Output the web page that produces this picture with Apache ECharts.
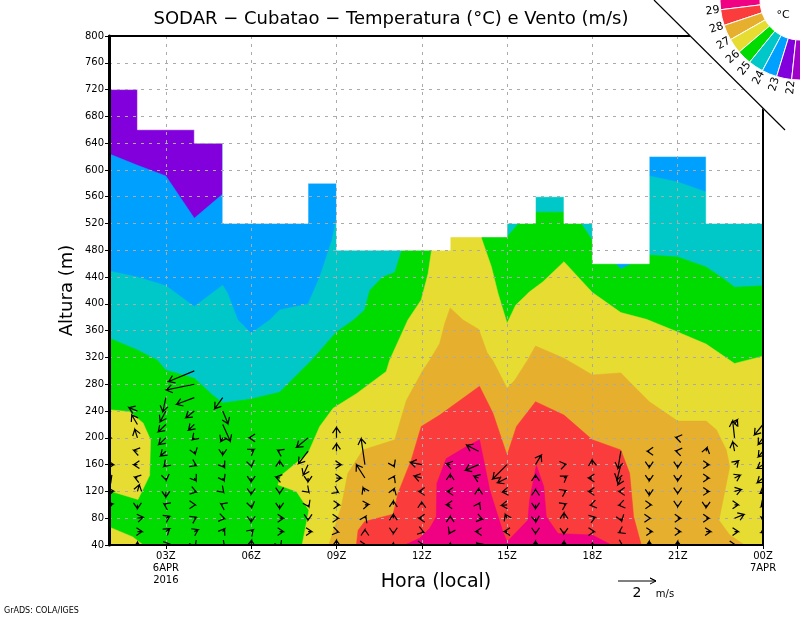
<!DOCTYPE html>
<html>
<head>
<meta charset="utf-8">
<title>SODAR Cubatao</title>
<script src="https://cdn.jsdelivr.net/npm/echarts@6/dist/echarts.min.js"></script>
<style>
    html, body { margin: 0; padding: 0; background: #fff; }
    #chart { width: 800px; height: 618px; }
</style>
</head>
<body>
<div id="chart"></div>
<script>
// axes
const xTicks = [3, 6, 9, 12, 15, 18, 21, 24];
const xTickLabels = ['03Z\n6APR\n2016', '06Z', '09Z', '12Z', '15Z', '18Z', '21Z', '00Z\n7APR'];
const windHeights = [40, 60, 80, 100, 120, 140, 160, 180, 200, 220, 240, 260, 280, 300];

// top of the valid data per hour, [hour, height]
const dataTop = [[1,720],[2,720],[2,660],[4,660],[4,640],[5,640],[5,520],[8,520],[8,580],[9,580],[9,480],[13,480],[13,500],[15,500],
    [15,520],[16,520],[16,560],[17,560],[17,520],[18,520],[18,460],[20,460],[20,620],[22,620],[22,520],[24,520]];

// temperature contours, [hour, height]
const area22 = [[1,40],[1,800],[24,800],[24,40]];
const area23 = [[1,624],[2,607],[3,591],[4,528],[5,564],[5,800],[24,800],[24,40],[1,40]];
const area24 = [[1,449],[2,440],[3,427],[4,396],[5,428],[5.17,416],[5.53,376],[6,356],[6.65,376],[7,391],[8,400],[8.41,440],[8.84,495],[9,528],
    [9,800],[18,800],[18,520],[18.7,462],[19,448],[19.5,462],[20,591],[21,582],[22,567],[22,800],[24,800],[24,40],[1,40]];
const area25 = [[1,349],[2,331],[2.7,316],[3,301],[4,289],[4.64,264],[5,252],[6,258],[7,268],[7.42,286],[8.13,316],[9,358],[9.6,376],[9.99,391],
    [10.17,420],[10.62,440],[11.05,447],[11.22,470],[11.29,479],[11.3,800],[15,800],[15,500],[15.4,520],[16,537],[17,537],[17.6,520],[18,495],
    [19,452],[20,473],[21,470],[22,455],[22.6,438],[23,425],[24,427],[24,40],[1,40]];
const area26a = [[1,242],[1.72,239],[2.2,222],[2.46,197],[2.43,144],[2.02,108],[1,121]];
const area26b = [[1,67],[1.84,52],[2.2,40],[1,40]];
const area26c = [[7.79,40],[8.03,92],[7.59,120],[6.94,130],[7.06,144],[8,177],[8.41,217],[8.88,244],[9.7,266],[10.75,299],[10.87,316],[11.51,376],
    [11.98,406],[12.22,445],[12.34,479],[12.4,800],[14.1,800],[14.1,498],[14.45,455],[14.68,416],[15,371],[15.3,398],[15.79,418],[16.26,433],[17,463],
    [18,417],[19,387],[19.9,377],[21,358],[22,340],[23,311],[24,322],[24,40]];
const area27 = [[8.73,40],[9.17,97],[9.4,147],[9.93,182],[11.05,197],[11.46,256],[12.04,301],[12.28,316],[12.63,341],[12.81,371],[13,394],[13.45,376],
    [14,362],[14.3,327],[14.49,316],[15,274],[15.27,286],[15.72,316],[16,337],[17,319],[18,294],[19,297],[19.25,286],[20,254],[21,225],[22,225],
    [22.36,212],[22.71,182],[22.83,157],[22.45,77],[22.83,55],[23.35,40]];
const area28 = [[9.7,40],[9.76,62],[9.99,75],[10.99,86],[11.16,117],[11.63,167],[11.98,217],[12.63,234],[14.03,277],[14.5,237],[15,174],[15.33,217],
    [16,254],[17,234],[18,197],[19,182],[19.31,147],[19.45,82],[19.72,40]];
const area29 = [[11.4,40],[11.92,50],[12.28,65],[12.51,82],[12.53,132],[12.86,169],[13.57,187],[14.03,197],[14.39,122],[14.85,60],[15,45],[15.73,77],
    [15.79,107],[16.03,159],[16.29,127],[16.38,82],[16.79,57],[18,55],[18.67,40]];

// colour bar
const tempLabels = ['29', '28', '27', '26', '25', '24', '23', '22'];
const barColors = ['#f00082', '#fa3c3c', '#e6af2d', '#e6dc32', '#00dc00', '#00c8c8', '#00a0ff', '#8200dc', '#a000c8'];
const barAngles = [-5, 7, 18.5, 29.7, 40.5, 51, 62, 73, 84, 96];

// wind per hour, [u, v] in m/s, from 40 m upwards every 20 m
const wind01 = [null,null,null,[.2,.05],[.25,.02],[.1,-.2],[.25,0],null,[.1,0]];
const wind02 = [[0,.15],[.25,0],[.3,.05],[0,-.2],[.1,.35],[-.15,.05],[-.2,0],[-.2,.05],[-.14,.45],[-.3,.5],[-.45,.18]];
const wind03 = [[.2,.05],[.2,.15],[.2,.1],[-.1,.05],[0,-.3],[.02,-.12],[-.1,-.1],[-.28,-.25],[-.37,-.35],[-.4,-.39],[-.3,-.56],[-.16,-.74]];
const wind04 = [[.05,-.1],[.2,.1],[.1,.05],[.05,0],[.1,-.03],[.1,-.15],[.1,-.05],[.05,-.15],[-.1,-.1],[-.3,-.3],[-.44,-.35],[-.93,-.35],[-1.47,-.3],[-1.35,-.56]];
const wind05 = [[.1,-.1],[.1,.15],[.1,-.02],[-.1,.05],[.05,-.05],[.08,-.15],[.1,-.15],[0,-.2],[-.1,-.2],[.4,-.88],[.28,-.67],[-.42,-.58]];
const wind06 = [[.02,.25],[.1,.1],[0,-.2],[.03,-.15],[0,-.15],[0,-.2],[.02,-.1],[.15,.1],[-.1,0]];
const wind07 = [[.05,-.1],[.2,0],[.2,0],[0,-.2],[0,-.1],[-.2,.05],[0,.2],[-.1,.05]];
const wind08 = [null,[.2,0],[0,-.1],[.05,-.1],[.05,-.05],[0,-.2],[-.25,-.55],[-.5,-.65],[-.6,-.5]];
const wind09 = [[0,.25],[.1,-.02],[.1,0],[.15,0],[.1,-.05],[.25,0],[.25,0],[0,.4],[0,.55]];
const wind10 = [[.05,0],[0,.1],[.05,.1],[.2,.02],[-.1,.2],[-.45,.7],[-.2,1.37]];
const wind11 = [[0,.1],[0,-.1],[0,.2],[0,.2],[.05,.15],[.05,.1],[.05,-.1]];
const wind12 = [[.1,0],[.1,-.03],[-.15,0],[0,.15],[-.15,0],[-.4,.1],[-.6,.12]];
const wind13 = [[0,.1],[-.05,-.1],[0,.1],[-.2,0],[-.15,0],[0,.2],[-.2,.05]];
const wind14 = [[-.1,.1],[-.15,0],[.2,-.05],[.05,.1],[0,.15],[-.25,.1],[-.7,-.3],[-.63,.32]];
const wind15 = [null,[-.15,0],[-.1,.2],[-.3,-.03],[-.25,-.03],[-.5,-.25],[-.75,-.75]];
const wind16 = [[0,.2],[0,-.1],[.02,-.2],[0,-.2],[0,.1],[0,.15],[.3,.5]];
const wind17 = [[0,.2],[0,-.12],[0,.28],[.1,.05],[.1,.05],[.15,.1],[.1,.02]];
const wind18 = [[0,.1],[.1,0],[.15,.05],[-.1,-.02],[-.2,0],[-.2,0],[-.02,.25]];
const wind19 = [[.1,-.05],[-.1,-.05],[.05,-.15],[-.1,-.02],[-.1,0],[-.15,-.35],[-.2,-.8],[-.15,-.9]];
const wind20 = [[0,.2],[.15,0],[.05,0],[.1,0],[0,-.2],[0,-.15],[0,-.15],[-.1,0]];
const wind21 = [[0,.2],[.15,0],[.15,0],[0,-.1],[0,-.1],[0,-.15],[0,-.15],[-.1,.02],[-.1,.02]];
const wind22 = [null,[.25,0],[.15,0],[0,-.15],[.15,0],[.15,0],[.15,0],[.05,.2]];
const wind23 = [[.05,0],[.2,0],[.5,.2],[.2,0],[.35,.1],[.3,.15],[.2,.2],[-.1,.5],[-.1,.9],[.15,.25]];
const wind24 = [null,[-.1,-.05],[-.1,.05],[-.1,-.1],[-.15,-.1],[-.3,-.25],[-.3,-.2],[-.25,-.3],[-.25,-.35],[-.45,-.55]];
const windColumns = [wind01, wind02, wind03, wind04, wind05, wind06, wind07, wind08, wind09, wind10, wind11, wind12,
    wind13, wind14, wind15, wind16, wind17, wind18, wind19, wind20, wind21, wind22, wind23, wind24];

const bands = [
    { points: area22, color: '#8200dc' },
    { points: area23, color: '#00a0ff' },
    { points: area24, color: '#00c8c8' },
    { points: area25, color: '#00dc00' },
    { points: area26a, color: '#e6dc32' },
    { points: area26b, color: '#e6dc32' },
    { points: area26c, color: '#e6dc32' },
    { points: area27, color: '#e6af2d' },
    { points: area28, color: '#fa3c3c' },
    { points: area29, color: '#f00082' },
    // white above the last valid height of each hour
    { points: dataTop.concat([[24, 800], [1, 800]]), color: '#fff' }
];

const windData = [];
windColumns.forEach((col, i) => {
    col.forEach((w, j) => {
        if (w) windData.push([i + 1, windHeights[j], w[0], w[1]]);
    });
});

const pxPerMs = 19; // reference arrow: 2 m/s = 38 px
const labelFont = 'DejaVu Sans';

const renderBand = (params, api) => {
    const band = bands[params.dataIndex];
    return {
        type: 'polygon',
        shape: { points: band.points.map(p => api.coord(p)) },
        style: { fill: band.color, stroke: band.color, lineWidth: 0.5 }
    };
};

const renderArrow = (params, api) => {
    const tail = api.coord([api.value(0), api.value(1)]);
    const tip = [tail[0] + api.value(2) * pxPerMs, tail[1] - api.value(3) * pxPerMs];
    const ang = Math.atan2(tip[1] - tail[1], tip[0] - tail[0]);
    const wing = a => [tip[0] - 7 * Math.cos(ang + a), tip[1] - 7 * Math.sin(ang + a)];
    return {
        type: 'polyline',
        shape: { points: [tail, tip, wing(0.6), tip, wing(-0.6)] },
        style: { stroke: '#000', fill: null, lineWidth: 1.2 }
    };
};

const toRad = d => d * Math.PI / 180;

const barSectors = barColors.map((color, i) => ({
    type: 'sector',
    z: 101,
    shape: { cx: 800, cy: 0, r0: 40, r: 80, startAngle: Math.PI - toRad(barAngles[i + 1]), endAngle: Math.PI - toRad(barAngles[i]) },
    style: { fill: color, stroke: '#fff', lineWidth: 1 }
}));

const barLabels = tempLabels.map((text, i) => {
    const a = toRad(barAngles[i + 1]);
    return {
        type: 'text',
        z: 101,
        x: 800 - 88 * Math.cos(a),
        y: 88 * Math.sin(a),
        rotation: a,
        style: { text, fill: '#000', font: '11px "' + labelFont + '"', align: 'center', verticalAlign: 'middle' }
    };
});

const chart = echarts.init(document.getElementById('chart'));
chart.setOption({
    animation: false,
    backgroundColor: '#fff',
    title: {
        text: 'SODAR \u2212 Cubatao \u2212 Temperatura (\u00b0C) e Vento (m/s)',
        left: 386,
        top: 5,
        textAlign: 'center',
        textStyle: { fontFamily: labelFont, fontWeight: 'normal', fontSize: 18, color: '#000' }
    },
    grid: { left: 109, right: 37, top: 36, bottom: 73 },
    xAxis: [{
        type: 'value',
        z: 5,
        min: 1,
        max: 24,
        name: 'Hora (local)',
        nameLocation: 'middle',
        nameGap: 28,
        nameMoveOverlap: false,
        nameTextStyle: { fontFamily: labelFont, fontSize: 19, color: '#000' },
        axisLine: { onZero: false, lineStyle: { color: '#000', width: 2 } },
        axisTick: { customValues: xTicks, length: 4, lineStyle: { color: '#000' } },
        axisLabel: {
            customValues: xTicks,
            margin: 5,
            lineHeight: 12,
            fontFamily: labelFont,
            fontSize: 10,
            color: '#000',
            formatter: v => xTickLabels[xTicks.indexOf(v)]
        },
        splitLine: { show: true, lineStyle: { color: '#aaa', type: [3, 5], width: 1 } }
    }, {
        type: 'value',
        z: 5,
        min: 1,
        max: 24,
        position: 'top',
        axisLine: { onZero: false, lineStyle: { color: '#000', width: 2 } },
        axisTick: { show: false },
        axisLabel: { show: false },
        splitLine: { show: false }
    }],
    yAxis: [{
        type: 'value',
        z: 5,
        min: 40,
        max: 800,
        interval: 40,
        name: 'Altura (m)',
        nameLocation: 'middle',
        nameGap: 33,
        nameMoveOverlap: false,
        nameTextStyle: { fontFamily: labelFont, fontSize: 18, color: '#000' },
        axisLine: { onZero: false, lineStyle: { color: '#000', width: 3 } },
        axisTick: { length: 4, lineStyle: { color: '#000' } },
        axisLabel: { margin: 5, fontFamily: labelFont, fontSize: 10, color: '#000' },
        splitLine: { show: true, lineStyle: { color: '#aaa', type: [3, 5], width: 1 } }
    }, {
        type: 'value',
        z: 5,
        min: 40,
        max: 800,
        interval: 40,
        position: 'right',
        axisLine: { onZero: false, lineStyle: { color: '#000', width: 2 } },
        axisTick: { show: false },
        axisLabel: { show: false },
        splitLine: { show: false }
    }],
    series: [{
        type: 'custom',
        z: 2,
        silent: true,
        coordinateSystem: 'cartesian2d',
        renderItem: renderBand,
        data: bands.map((b, i) => [i])
    }, {
        type: 'custom',
        z: 6,
        silent: true,
        clip: true,
        coordinateSystem: 'cartesian2d',
        renderItem: renderArrow,
        encode: { x: 0, y: 1 },
        data: windData
    }],
    graphic: [
        // cut corner with the colour bar
        { type: 'polygon', z: 100, shape: { points: [[654, 0], [800, 0], [800, 146]] }, style: { fill: '#fff' } },
        { type: 'line', z: 101, shape: { x1: 654, y1: 0, x2: 785, y2: 130 }, style: { stroke: '#000', lineWidth: 1.2 } },
        ...barSectors,
        ...barLabels,
        { type: 'text', z: 101, x: 783, y: 15, style: { text: '\u00b0C', fill: '#000', font: '11px "' + labelFont + '"', align: 'center', verticalAlign: 'middle' } },
        // wind key
        { type: 'polyline', z: 101, shape: { points: [[618, 581], [656, 581], [650, 578], [656, 581], [650, 584]] }, style: { stroke: '#000', fill: null, lineWidth: 1 } },
        { type: 'text', z: 101, x: 637, y: 593, style: { text: '2', fill: '#000', font: '14px "' + labelFont + '"', align: 'center', verticalAlign: 'middle' } },
        { type: 'text', z: 101, x: 665, y: 594, style: { text: 'm/s', fill: '#000', font: '10px "' + labelFont + '"', align: 'center', verticalAlign: 'middle' } },
        { type: 'text', z: 101, x: 4, y: 611, style: { text: 'GrADS: COLA/IGES', fill: '#000', font: '8px "' + labelFont + '"', align: 'left', verticalAlign: 'middle' } }
    ]
});
</script>
</body>
</html>
